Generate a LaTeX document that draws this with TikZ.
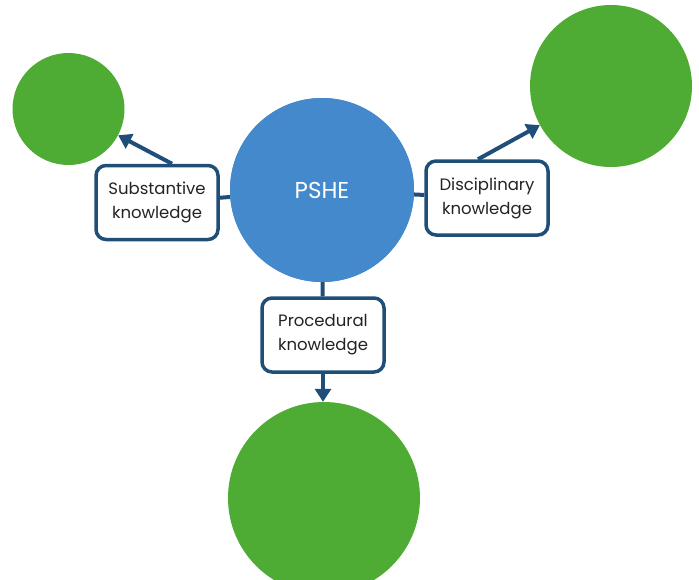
\documentclass[tikz,border=0pt]{standalone}
\usepackage{fontspec}
\setmainfont{Poppins}
\usetikzlibrary{arrows.meta,calc}
\definecolor{pshblue}{RGB}{68,137,204}
\definecolor{leafgreen}{RGB}{78,172,52}
\definecolor{linkblue}{RGB}{31,78,121}
\definecolor{textgrey}{RGB}{35,35,35}

\tikzset{
  hub/.style={circle, fill=pshblue, minimum size=184pt, inner sep=0pt,
    text=white, font=\fontsize{23}{26}\selectfont},
  leaf/.style={circle, fill=leafgreen, inner sep=0pt},
  kbox/.style={draw=linkblue, line width=3.5pt, rounded corners=10pt, fill=white,
    minimum width=122pt, minimum height=74pt, inner sep=4pt, align=center, text=textgrey,
    font=\fontsize{16.5}{24}\selectfont},
  link/.style={linkblue, line width=4pt},
  arr/.style={link, -{Triangle[length=13pt,width=16pt]}}
}

\begin{document}
\begin{tikzpicture}[x=1pt,y=-1pt]
        \useasboundingbox (0,0) rectangle (699,579);

        % Circles
        \node[hub] (pshe) at (322,190) {};
        \node[leaf, minimum size=112pt] (gleft) at (68.5,109) {};
        \node[leaf, minimum size=162pt] (gright) at (611,86) {};
        \node[leaf, minimum size=192pt] (gbot) at (324,498) {};

        % Knowledge boxes
        \node[kbox] (subst) at (157,202.5) {Substantive\\knowledge};
        \node[kbox] (disc) at (487,198) {Disciplinary\\knowledge};
        \node[kbox] (proc) at (323,335) {Procedural\\knowledge};

        % Links from the hub to the boxes
        \draw[link] (pshe) -- (subst);
        \draw[link] (pshe) -- (disc);
        \draw[link] (pshe) -- (proc);
        \node[hub] at (pshe) {PSHE};

        % Arrows to the leaves
        \draw[arr] ($(subst.north)+(15,0)$) -- (gleft);
        \draw[arr] ($(disc.north)+(-9,0)$) -- (gright);
        \draw[arr] (proc.south) -- (proc.south |- gbot.north);
\end{tikzpicture}
\end{document}
